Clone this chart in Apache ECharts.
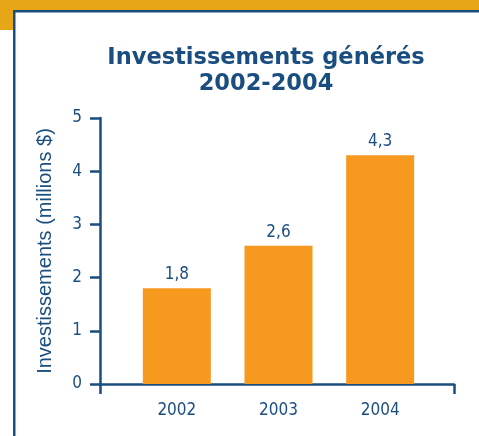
<!DOCTYPE html>
<html>
<head>
<meta charset="utf-8">
<script src="https://cdn.jsdelivr.net/npm/echarts@6/dist/echarts.min.js"></script>
<style>
html,body{margin:0;padding:0;background:#fff;}
#c{width:479px;height:436px;}
</style>
</head>
<body>
<div id="c"></div>
<script>
const categories = ['2002', '2003', '2004'];
const values = [1.8, 2.6, 4.3];
const yTicks = [0, 1, 2, 3, 4, 5];
const titleText = 'Investissements générés\n2002-2004';
const yAxisName = 'Investissements (millions $)';

const BLUE = '#1B4E80';
const ORANGE = '#F7981F';
const GOLD = '#E6A616';
const NARROW = '"Liberation Sans Narrow", "DejaVu Sans Condensed", sans-serif';

const chart = echarts.init(document.getElementById('c'), null, {renderer: 'canvas'});
chart.setOption({
  animation: false,
  backgroundColor: '#fff',
  graphic: [
    {type: 'rect', shape: {x: 0, y: 0, width: 479, height: 10}, style: {fill: GOLD}, silent: true},
    {type: 'rect', shape: {x: 0, y: 0, width: 13, height: 30}, style: {fill: GOLD}, silent: true},
    {type: 'rect', shape: {x: 13, y: 10, width: 466, height: 2.5}, style: {fill: BLUE}, silent: true},
    {type: 'rect', shape: {x: 13, y: 10, width: 2.5, height: 426}, style: {fill: BLUE}, silent: true}
  ],
  title: {
    text: titleText,
    left: 266,
    textAlign: 'center',
    top: 45,
    padding: 0,
    textStyle: {
      fontFamily: '"DejaVu Sans", sans-serif',
      fontWeight: 'bold',
      fontSize: 22.5,
      lineHeight: 26,
      color: BLUE
    }
  },
  grid: [
    {left: 100, right: 25, top: 118, bottom: 52},
    {left: 126, right: 48, top: 118, bottom: 52}
  ],
  xAxis: [
    {
      gridIndex: 0,
      type: 'category',
      data: [''],
      boundaryGap: true,
      axisLine: {show: true, lineStyle: {color: BLUE, width: 2.5}},
      axisTick: {show: true, length: 10, lineStyle: {color: BLUE, width: 2.5}},
      axisLabel: {show: false},
      splitLine: {show: false}
    },
    {
      gridIndex: 1,
      type: 'category',
      data: categories,
      axisLine: {show: false},
      axisTick: {show: false},
      axisLabel: {
        show: true,
        margin: 18,
        fontFamily: NARROW,
        fontSize: 17,
        color: BLUE
      }
    }
  ],
  yAxis: [
    {
      gridIndex: 0,
      type: 'value',
      min: yTicks[0],
      max: yTicks[yTicks.length - 1],
      interval: 1,
      name: yAxisName,
      nameLocation: 'middle',
      nameGap: 45,
      nameRotate: 90,
      nameTextStyle: {
        fontFamily: '"Liberation Sans", Arial, sans-serif',
        fontSize: 20,
        color: BLUE
      },
      axisLine: {show: true, lineStyle: {color: BLUE, width: 2.5}},
      axisTick: {show: true, length: 10, lineStyle: {color: BLUE, width: 2.5}},
      axisLabel: {
        margin: 18,
        fontFamily: NARROW,
        fontSize: 17,
        color: BLUE
      },
      splitLine: {show: false}
    },
    {
      gridIndex: 1,
      type: 'value',
      min: yTicks[0],
      max: yTicks[yTicks.length - 1],
      interval: 1,
      show: false
    }
  ],
  series: [
    {
      type: 'bar',
      xAxisIndex: 1,
      yAxisIndex: 1,
      data: values,
      barWidth: 68,
      itemStyle: {color: ORANGE},
      z: 1,
      label: {
        show: true,
        position: 'top',
        distance: 5,
        fontFamily: NARROW,
        fontSize: 17,
        color: BLUE,
        formatter: p => String(p.value).replace('.', ',')
      }
    }
  ]
});
</script>
</body>
</html>
